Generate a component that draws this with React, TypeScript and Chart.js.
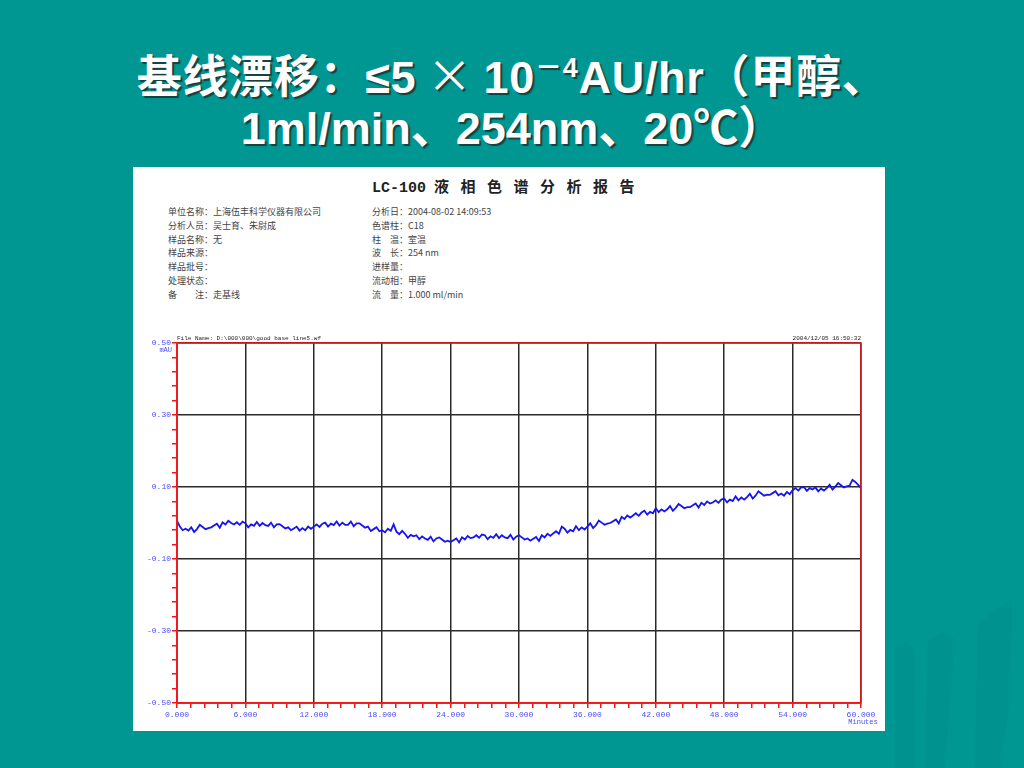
import React, { useEffect, useRef } from "react";
import { Chart, registerables } from "chart.js";

Chart.register(...registerables);

// ---------- data ----------
const titleLine1Main = "基线漂移：≤5";
const titleTimes = " × ";
const titleTen = "10";
const titleSup = "－4";
const titleLine1Tail = "AU/hr（甲醇、";
const titleLine2 = "1ml/min、254nm、20℃）";

const reportTitleModel = "LC-100";
const reportTitleText = "液相色谱分析报告";
const leftInfo = [
  "单位名称：上海伍丰科学仪器有限公司",
  "分析人员：吴士育、朱尉成",
  "样品名称：无",
  "样品来源：",
  "样品批号：",
  "处理状态：",
  "备　　注：走基线",
];
const rightInfo = [
  "分析日：2004-08-02 14:09:53",
  "色谱柱：C18",
  "柱　温：室温",
  "波　长：254 nm",
  "进样量：",
  "流动相：甲醇",
  "流　量：1.000 ml/min",
];

const fileName = "File Name: D:\\000\\000\\good base line5.wf";
const dateStamp = "2004/12/05 16:50:32";
const yUnit = "mAU";
const xUnit = "Minutes";

const sampleStepMin = 0.25; // minutes between samples
// baseline signal, one value per sample (mAU)
const baselineAU: number[] = [
  0.006, -0.010, -0.020, -0.016,
  -0.021, -0.012, -0.025, -0.017,
  -0.005, -0.011, -0.017, -0.014,
  -0.012, -0.007, -0.002, -0.013,
  0.002, -0.004, 0.006, 0.000,
  -0.004, 0.002, -0.005, 0.004,
  -0.001, -0.012, -0.004, -0.008,
  0.003, -0.008, 0.000, -0.006,
  -0.008, 0.001, -0.012, -0.004,
  -0.003, -0.009, -0.015, -0.012,
  -0.020, -0.015, -0.010, -0.021,
  -0.014, -0.020, -0.010, -0.016,
  -0.010, -0.004, -0.011, -0.002,
  0.001, -0.010, -0.002, -0.006,
  0.004, -0.007, 0.001, -0.005,
  -0.005, 0.004, -0.009, -0.001,
  -0.001, -0.007, -0.013, -0.010,
  -0.022, -0.017, -0.012, -0.023,
  -0.020, -0.026, -0.016, -0.022,
  -0.004, -0.024, -0.031, -0.022,
  -0.030, -0.041, -0.033, -0.037,
  -0.034, -0.045, -0.037, -0.043,
  -0.047, -0.038, -0.051, -0.043,
  -0.040, -0.046, -0.052, -0.049,
  -0.053, -0.048, -0.043, -0.054,
  -0.040, -0.046, -0.036, -0.042,
  -0.040, -0.034, -0.041, -0.032,
  -0.034, -0.045, -0.037, -0.041,
  -0.031, -0.042, -0.034, -0.040,
  -0.042, -0.033, -0.046, -0.038,
  -0.034, -0.040, -0.046, -0.043,
  -0.049, -0.044, -0.039, -0.050,
  -0.034, -0.040, -0.030, -0.036,
  -0.029, -0.023, -0.030, -0.010,
  -0.016, -0.027, -0.019, -0.023,
  -0.009, -0.020, -0.012, -0.018,
  -0.010, -0.001, -0.014, -0.006,
  0.007, 0.001, -0.005, -0.002,
  0.000, 0.005, 0.010, -0.001,
  0.017, 0.011, 0.021, 0.015,
  0.021, 0.027, 0.020, 0.029,
  0.034, 0.023, 0.031, 0.027,
  0.041, 0.030, 0.038, 0.032,
  0.038, 0.047, 0.034, 0.042,
  0.053, 0.047, 0.041, 0.044,
  0.044, 0.049, 0.054, 0.043,
  0.056, 0.050, 0.060, 0.054,
  0.057, 0.063, 0.056, 0.065,
  0.068, 0.057, 0.065, 0.061,
  0.074, 0.063, 0.071, 0.065,
  0.072, 0.081, 0.068, 0.076,
  0.088, 0.082, 0.076, 0.079,
  0.078, 0.083, 0.088, 0.077,
  0.082, 0.076, 0.086, 0.080,
  0.091, 0.097, 0.090, 0.099,
  0.100, 0.089, 0.097, 0.093,
  0.099, 0.088, 0.096, 0.090,
  0.097, 0.106, 0.093, 0.101,
  0.111, 0.105, 0.099, 0.102,
  0.104, 0.120, 0.114, 0.106,
  0.097,
];

const xMin = 0;
const xMax = 60;
const xMinorStep = 1.2;
const xMajorEvery = 5;
const yMin = -0.5;
const yMax = 0.5;
const yMinorStep = 0.04;
const yMajorEvery = 5;

// ---------- styles ----------
const BG = "#009692";
const AXIS_RED = "#f01818";
const GRID = "#2a2a2a";
const LINE_BLUE = "#1414ee";
const LABEL_BLUE = "#4a4aff";

const extraText = {
  id: "extraText",
  afterDraw(chart: any) {
    const { ctx, chartArea: a } = chart;
    ctx.save();
    ctx.strokeStyle = AXIS_RED;
    ctx.lineWidth = 1.5;
    ctx.strokeRect(a.left, a.top, a.right - a.left, a.bottom - a.top);
    ctx.fillStyle = "#222";
    ctx.font = '6px "Liberation Mono", monospace';
    ctx.textBaseline = "bottom";
    ctx.textAlign = "left";
    ctx.fillText(fileName, a.left, a.top - 2);
    ctx.textAlign = "right";
    ctx.fillText(dateStamp, a.right, a.top - 2);
    ctx.fillStyle = LABEL_BLUE;
    ctx.font = '7px "Liberation Mono", monospace';
    ctx.textAlign = "right";
    ctx.textBaseline = "top";
    ctx.fillText(yUnit, a.left - 5, a.top + 4);
    ctx.textAlign = "center";
    ctx.fillText(xUnit, a.right + 2, a.bottom + 16);
    ctx.restore();
  },
};

function ChromChart() {
  const ref = useRef<HTMLCanvasElement>(null);
  useEffect(() => {
    if (!ref.current) return;
    const points = baselineAU.map((v, i) => ({ x: i * sampleStepMin, y: v }));
    const nx = Math.round((xMax - xMin) / xMinorStep);
    const ny = Math.round((yMax - yMin) / yMinorStep);
    const chart = new Chart(ref.current, {
      type: "line",
      data: {
        datasets: [
          {
            data: points,
            borderColor: LINE_BLUE,
            borderWidth: 1.8,
            pointRadius: 0,
            tension: 0,
            fill: false,
          },
        ],
      },
      options: {
        animation: false,
        responsive: false,
        events: [],
        layout: { padding: { left: 0, right: 23, top: 18, bottom: 0 } },
        plugins: { legend: { display: false }, tooltip: { enabled: false } },
        scales: {
          x: {
            type: "linear",
            min: xMin,
            max: xMax,
            afterBuildTicks: (s: any) => {
              s.ticks = Array.from({ length: nx + 1 }, (_, i) => ({
                value: Math.round((xMin + i * xMinorStep) * 1000) / 1000,
              }));
            },
            afterFit: (s: any) => {
              s.height = 28;
            },
            grid: {
              color: (c: any) =>
                c.index % xMajorEvery === 0 ? GRID : "rgba(0,0,0,0)",
              lineWidth: 1.5,
              tickColor: AXIS_RED,
              tickLength: 5,
              drawTicks: true,
            },
            border: { color: AXIS_RED, width: 1.5 },
            ticks: {
              autoSkip: false,
              maxRotation: 0,
              padding: 2,
              color: LABEL_BLUE,
              font: { family: '"Liberation Mono", monospace', size: 8 },
              callback: (v: any, i: number) =>
                i % xMajorEvery === 0 ? Number(v).toFixed(3) : "",
            },
          },
          y: {
            type: "linear",
            min: yMin,
            max: yMax,
            afterBuildTicks: (s: any) => {
              s.ticks = Array.from({ length: ny + 1 }, (_, i) => ({
                value: Math.round((yMin + i * yMinorStep) * 1000) / 1000,
              }));
            },
            afterFit: (s: any) => {
              s.width = 44;
            },
            grid: {
              color: (c: any) =>
                c.index % yMajorEvery === 0 ? GRID : "rgba(0,0,0,0)",
              lineWidth: 1.5,
              tickColor: AXIS_RED,
              tickLength: 5,
              drawTicks: true,
            },
            border: { color: AXIS_RED, width: 1.5 },
            ticks: {
              autoSkip: false,
              padding: 1,
              color: LABEL_BLUE,
              font: { family: '"Liberation Mono", monospace', size: 8 },
              callback: (v: any, i: number) =>
                i % yMajorEvery === 0 ? Number(v).toFixed(2) : "",
            },
          },
        },
      },
      plugins: [extraText],
    } as any);
    return () => chart.destroy();
  }, []);
  return (
    <canvas
      ref={ref}
      width={751}
      height={406}
      style={{ position: "absolute", left: 0, top: 158, width: 751, height: 406 }}
    />
  );
}

export default function App() {
  const titleStyle: React.CSSProperties = {
    position: "absolute",
    left: 0,
    width: 1024,
    textAlign: "center",
    color: "#fff",
    fontWeight: "bold",
    fontSize: 45,
    fontFamily: '"Liberation Sans", Arial, "Noto Sans CJK SC", sans-serif',
    textShadow: "2px 2px 1px rgba(30,30,30,0.7)",
    whiteSpace: "pre",
    lineHeight: "52px",
  };
  const infoFont = '"Noto Sans CJK SC", "Liberation Serif", serif';
  return (
    <div
      style={{
        position: "fixed",
        left: 0,
        top: 0,
        width: 1024,
        height: 768,
        background: BG,
        overflow: "hidden",
      }}
    >
      <svg
        width={1024}
        height={768}
        style={{ position: "absolute", left: 0, top: 0 }}
      >
        <g fill="rgba(0,70,70,0.05)">
          <polygon points="895,768 895,650 905,642 915,648 915,768" />
          <polygon points="925,768 928,640 945,632 955,640 950,700 945,768" />
          <polygon points="975,768 978,625 1000,606 1012,600 1010,700 1000,768" />
        </g>
      </svg>
      <div style={{ ...titleStyle, top: 48, letterSpacing: 0.7 }}>
        {titleLine1Main}
        <span style={{ fontFamily: '"Noto Sans CJK SC", sans-serif', fontWeight: 400 }}>
          {titleTimes}
        </span>
        {titleTen}
        <span style={{ fontSize: 27, verticalAlign: "top", position: "relative", top: -6 }}>
          {titleSup}
        </span>
        {titleLine1Tail}
      </div>
      <div style={{ ...titleStyle, top: 103 }}>{titleLine2}</div>

      <div
        style={{
          position: "absolute",
          left: 133,
          top: 167,
          width: 752,
          height: 564,
          background: "#fff",
        }}
      >
        <div
          style={{
            position: "absolute",
            left: 239,
            top: 9,
            fontWeight: "bold",
            fontSize: 15,
            color: "#222",
            whiteSpace: "pre",
            lineHeight: "20px",
          }}
        >
          <span style={{ fontFamily: '"Liberation Mono", monospace', fontSize: 15 }}>
            {reportTitleModel}
          </span>
          <span
            style={{
              fontFamily: infoFont,
              fontSize: 15,
              letterSpacing: 11.5,
              marginLeft: 8,
            }}
          >
            {reportTitleText}
          </span>
        </div>
        {leftInfo.map((t, i) => (
          <div
            key={"l" + i}
            style={{
              position: "absolute",
              left: 35,
              top: 39 + i * 13.8,
              fontFamily: infoFont,
              fontSize: 9,
              color: "#444",
              whiteSpace: "pre",
              lineHeight: "12px",
            }}
          >
            {t}
          </div>
        ))}
        {rightInfo.map((t, i) => (
          <div
            key={"r" + i}
            style={{
              position: "absolute",
              left: 239,
              top: 39 + i * 13.8,
              fontFamily: infoFont,
              fontSize: 9,
              color: "#444",
              whiteSpace: "pre",
              lineHeight: "12px",
            }}
          >
            {t}
          </div>
        ))}
        <ChromChart />
      </div>
    </div>
  );
}
